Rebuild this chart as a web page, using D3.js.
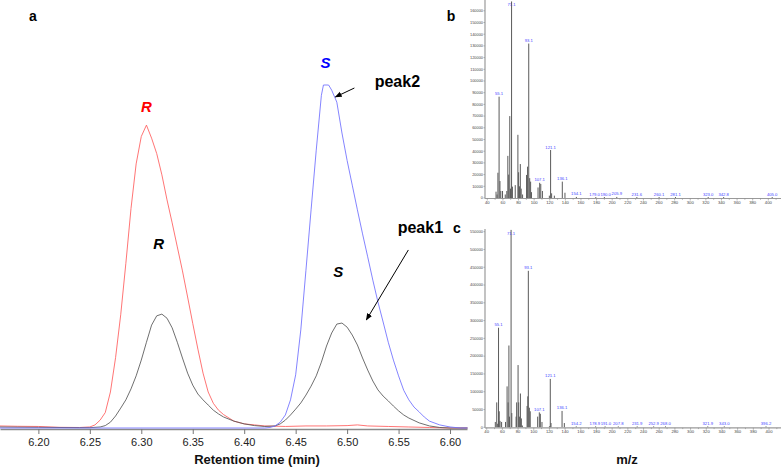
<!DOCTYPE html>
<html><head><meta charset="utf-8">
<script src="https://cdn.jsdelivr.net/npm/d3@7"></script>
<style>body{margin:0;background:#fff}svg{display:block}</style>
</head><body><svg id="c" width="784" height="468"></svg>
<script>
// ---------- Panel a: chromatograms ----------
const aTicks = [6.20, 6.25, 6.30, 6.35, 6.40, 6.45, 6.50, 6.55, 6.60];
const redTime = [6.162, 6.18, 6.20, 6.22, 6.24, 6.25, 6.255, 6.26, 6.265, 6.27, 6.275, 6.28, 6.285, 6.29, 6.295, 6.30, 6.305, 6.31, 6.315, 6.32, 6.325, 6.33, 6.335, 6.34, 6.345, 6.35, 6.355, 6.36, 6.365, 6.37, 6.375, 6.38, 6.39, 6.40, 6.41, 6.42, 6.44, 6.46, 6.48, 6.50, 6.51, 6.52, 6.54, 6.56, 6.58, 6.60, 6.617];
const redValue = [0.6, 0.5, 0.45, 0.2, 0.15, 0.3, 0.9, 2.3, 4.5, 10.5, 20.5, 33, 48, 64, 77, 85, 88.3, 84.5, 80, 73.8, 66.5, 59.8, 52.8, 45.8, 38.2, 30.5, 23, 16, 10.5, 7.2, 5.2, 3.9, 2, 1.2, 0.9, 0.6, 0.45, 0.6, 0.6, 0.7, 0.9, 0.6, 0.45, 0.3, 0.15, 0, 0];
const blueTime = [6.162, 6.42, 6.425, 6.43, 6.435, 6.44, 6.445, 6.45, 6.455, 6.46, 6.465, 6.47, 6.475, 6.477, 6.482, 6.485, 6.49, 6.495, 6.50, 6.505, 6.51, 6.515, 6.52, 6.525, 6.53, 6.535, 6.54, 6.545, 6.55, 6.555, 6.56, 6.565, 6.57, 6.575, 6.58, 6.59, 6.60, 6.61, 6.617];
const blueValue = [0, 0, 0.15, 0.6, 1.7, 3.8, 8.2, 15.5, 28.6, 46, 63.6, 81, 97, 100, 100, 98.5, 95, 86, 78, 70.8, 63.6, 56.6, 49.9, 43.1, 36.7, 30.9, 25, 19.8, 15.2, 11, 8.2, 6.1, 4.7, 3.2, 2, 0.9, 0.3, 0, 0];
const blackTime = [6.162, 6.20, 6.24, 6.25, 6.26, 6.265, 6.27, 6.275, 6.28, 6.285, 6.29, 6.295, 6.30, 6.305, 6.31, 6.315, 6.32, 6.325, 6.33, 6.335, 6.34, 6.345, 6.35, 6.355, 6.36, 6.365, 6.37, 6.375, 6.38, 6.39, 6.40, 6.41, 6.42, 6.43, 6.435, 6.44, 6.445, 6.45, 6.455, 6.46, 6.465, 6.47, 6.475, 6.48, 6.485, 6.49, 6.495, 6.50, 6.505, 6.51, 6.515, 6.52, 6.525, 6.53, 6.535, 6.54, 6.545, 6.55, 6.555, 6.56, 6.57, 6.58, 6.59, 6.60, 6.617];
const blackValue = [0.3, 0.2, 0.1, 0.1, 0.3, 0.7, 1.7, 3.5, 5.8, 8.2, 11.4, 15.2, 19.8, 25, 30, 32.7, 33.2, 32, 29.2, 25, 20.4, 16, 12.5, 9.9, 8.2, 6.7, 5.2, 4.1, 3.2, 2, 1.2, 0.7, 0.45, 0.6, 1.2, 2.3, 3.8, 5.5, 7.3, 9.6, 12.2, 15.2, 19.2, 23.9, 27.7, 30.3, 30.6, 29.4, 27.1, 24.2, 20.4, 16.9, 13.7, 11.1, 9.3, 7.9, 6.4, 5, 3.8, 2.9, 1.5, 0.6, 0.15, 0, 0];

// ---------- Panel b: mass spectrum ----------
const bMz = [51.2, 52.5, 53.6, 55.1, 56.2, 57.3, 59.5, 63, 65, 66.3, 67.4, 68.8, 69.7, 71.1, 72.2, 75.8, 79.2, 80.1, 81.3, 82.3, 83.4, 85.2, 90.3, 91.6, 93.1, 94.3, 95.5, 96.6, 105, 107.1, 108.5, 110.6, 119.5, 121.1, 122.4, 125.9, 136.1, 139.5, 154.1, 179.0, 190.0, 205.9, 231.6, 260.1, 281.1, 323.0, 342.8, 405.0];
const bInt = [5400, 3000, 21600, 86600, 14500, 6000, 6000, 3000, 6000, 36000, 20000, 70000, 8000, 168000, 9700, 11000, 54000, 22000, 10000, 29000, 8000, 3000, 19700, 26800, 132000, 17000, 14000, 5000, 9000, 13000, 12000, 6000, 2000, 41000, 4000, 2000, 14000, 4500, 900, 800, 800, 900, 800, 800, 800, 800, 800, 800];
const bLabels = ["55.1", "71.1", "93.1", "107.1", "121.1", "136.1", "154.1", "179.0", "190.0", "205.9", "231.6", "260.1", "281.1", "323.0", "342.8", "405.0"];
const bYTicks = d3.range(0, 160001, 10000);

// ---------- Panel c: mass spectrum ----------
const cMz = [51, 52.8, 54, 55.1, 56, 57, 59, 64, 66, 67.3, 68.3, 69, 71.1, 72, 77.5, 78.2, 80, 80.8, 82, 83, 84.2, 85.5, 91.5, 92.4, 93.1, 94.4, 95.5, 105, 107.1, 108.4, 110.5, 120, 121.1, 122, 136.1, 139, 154.2, 178.9, 191.0, 207.8, 231.9, 252.9, 268.0, 321.9, 343.0, 396.2];
const cInt = [15000, 70000, 10000, 280000, 45000, 18000, 15000, 15000, 115000, 70000, 230000, 30000, 555000, 40000, 30000, 70000, 175000, 70000, 30000, 95000, 25000, 5000, 60000, 87000, 440000, 55000, 45000, 30000, 42000, 38000, 15000, 3000, 136000, 12000, 46000, 12000, 2500, 2500, 2500, 2500, 2500, 2500, 2500, 2500, 2500, 2500];
const cLabels = ["55.1", "71.1", "93.1", "107.1", "121.1", "136.1", "154.2", "178.9", "191.0", "207.8", "231.9", "252.9", "268.0", "321.9", "343.0", "396.2"];
const cYTicks = d3.range(0, 550001, 50000);
const mzTicks = d3.range(40, 401, 20);

const FONT = "'Liberation Sans', Arial, Helvetica, sans-serif";
const svg = d3.select("#c").style("font-family", FONT);

// ===== Panel a =====
const xA = d3.scaleLinear().domain([6.1627, 6.6165]).range([0, 467]);
const yA = d3.scaleLinear().domain([0, 100]).range([428, 85]);

const gAx = svg.append("g").attr("transform", "translate(0,429)");
gAx.call(d3.axisBottom(xA).tickValues(d3.range(6.165, 6.6151, 0.005)).tickFormat("").tickSize(3).tickSizeOuter(0));
gAx.call(d3.axisBottom(xA).tickValues(aTicks).tickFormat(d3.format(".2f")).tickSize(5).tickSizeOuter(0).tickPadding(4));
gAx.selectAll("path.domain").attr("stroke", "#8a8a8a").attr("stroke-width", 1.3);
gAx.selectAll(".tick line").attr("stroke", "#777");
gAx.selectAll(".tick text").attr("font-size", 11).attr("fill", "#222").attr("font-family", FONT);

svg.append("text").attr("x", 257).attr("y", 464).attr("text-anchor", "middle")
  .attr("font-size", 13).attr("font-weight", "bold").attr("fill", "#111").text("Retention time (min)");

const lineA = d3.line().x(d => xA(d[0])).y(d => yA(d[1]));
const series = [
  {t: redTime, v: redValue, c: "#ff5c5c"},
  {t: blackTime, v: blackValue, c: "#555555"},
  {t: blueTime, v: blueValue, c: "#6e6eff"}
];
series.forEach(s => {
  svg.append("path").attr("d", lineA(s.t.map((t, i) => [t, s.v[i]])))
    .attr("fill", "none").attr("stroke", s.c).attr("stroke-width", 0.85);
});

// annotations
function lab(x, y, txt, col, size, italic) {
  return svg.append("text").attr("x", x).attr("y", y).attr("text-anchor", "middle")
    .attr("font-size", size).attr("font-weight", "bold").attr("font-style", italic ? "italic" : "normal")
    .attr("fill", col).text(txt);
}
lab(xA(6.305), yA(88.3) - 13, "R", "#ff0000", 15, true);
lab(xA(6.479), yA(100) - 17.5, "S", "#0000ff", 15, true);
lab(xA(6.317), yA(33.2) - 65, "R", "#000", 15, true);
lab(xA(6.4915), yA(30.6) - 46, "S", "#000", 15, true);
lab(xA(6.4886) + 62, yA(96.5) - 10, "peak2", "#000", 16, false);
lab(xA(6.5187) + 54, yA(31.5) - 87, "peak1", "#000", 16, false);

svg.append("defs").append("marker").attr("id", "ah").attr("viewBox", "0 0 10 10")
  .attr("refX", 9).attr("refY", 5).attr("markerWidth", 7).attr("markerHeight", 7)
  .attr("orient", "auto").append("path").attr("d", "M0,1L10,5L0,9z").attr("fill", "#000");
function arrow(x2, y2, dx, dy) {
  svg.append("line").attr("x1", x2 + dx).attr("y1", y2 + dy).attr("x2", x2).attr("y2", y2)
    .attr("stroke", "#000").attr("stroke-width", 1).attr("marker-end", "url(#ah)");
}
arrow(xA(6.4886), yA(96.5), 19, -9);
arrow(xA(6.5187), yA(31.5), 42, -70);

// panel letters
lab(33, 21, "a", "#000", 14, false);
lab(451, 21, "b", "#000", 14, false);
lab(457, 233, "c", "#000", 14, false);

// ===== Panels b, c =====
function spectrum(mz, ints, labels, yTicks, x, y, axTop) {
  const g = svg.append("g");
  const y0 = y(0), xL = 485, xR = 781;
  mz.forEach((m, i) => {
    g.append("line").attr("x1", x(m)).attr("x2", x(m)).attr("y1", y0).attr("y2", y(ints[i]))
      .attr("stroke", "#5a5a5a").attr("stroke-width", 1);
  });
  g.append("line").attr("x1", xL).attr("x2", xL).attr("y1", axTop).attr("y2", y0 + 0.5).attr("stroke", "#9a9a9a").attr("stroke-width", 1.2);
  g.append("line").attr("x1", xL).attr("x2", xR).attr("y1", y0 + 0.5).attr("y2", y0 + 0.5).attr("stroke", "#9a9a9a").attr("stroke-width", 1.2);
  yTicks.forEach(v => {
    g.append("line").attr("x1", xL - 1.5).attr("x2", xL).attr("y1", y(v)).attr("y2", y(v)).attr("stroke", "#888").attr("stroke-width", 0.6);
    g.append("text").attr("x", xL - 2).attr("y", y(v) + 1.3).attr("text-anchor", "end")
      .attr("font-size", 3.9).attr("fill", "#444").text(v);
  });
  d3.range(40, 411, 10).forEach(v => {
    g.append("line").attr("x1", x(v)).attr("x2", x(v)).attr("y1", y0 + 0.5).attr("y2", y0 + (v % 20 === 0 ? 2.5 : 1.8))
      .attr("stroke", "#888").attr("stroke-width", 0.6);
  });
  mzTicks.forEach(v => {
    g.append("text").attr("x", x(v)).attr("y", y0 + 5.8).attr("text-anchor", "middle")
      .attr("font-size", 4.2).attr("fill", "#444").text(v);
  });
  // peak labels with simple left-to-right collision avoidance (same row only)
  const placed = [];
  labels.forEach(l => {
    const m = +l;
    let k = 0, best = 1e9;
    mz.forEach((mm, i) => { if (Math.abs(mm - m) < best) { best = Math.abs(mm - m); k = i; } });
    const yy = Math.max(y(ints[k]) - 1.5, axTop + 5.5);
    const t = g.append("text").attr("x", x(m)).attr("y", yy).attr("text-anchor", "middle")
      .attr("font-size", 4.2).attr("fill", "#4444ff").text(l);
    const w = t.node().getComputedTextLength();
    placed.push({t, cx: x(m), y: yy, w});
  });
  for (let pass = 0; pass < 4; pass++) {
    for (let i = 1; i < placed.length; i++) {
      const a = placed[i - 1], b = placed[i];
      if (Math.abs(a.y - b.y) > 4) continue;
      const gap = (b.cx - b.w / 2) - (a.cx + a.w / 2);
      if (gap < 0.6) { const d = (0.6 - gap) / 2; a.cx -= d; b.cx += d; }
    }
  }
  placed.forEach(p => p.t.attr("x", p.cx));
}
const xB = d3.scaleLinear().domain([40, 400]).range([487.3, 768.3]);
const yB = d3.scaleLinear().domain([0, 160000]).range([198, 10.8]);
spectrum(bMz, bInt, bLabels, bYTicks, xB, yB, 0);
const xC = d3.scaleLinear().domain([40, 400]).range([486.7, 769]);
const yC = d3.scaleLinear().domain([0, 550000]).range([427.3, 231.7]);
spectrum(cMz, cInt, cLabels, cYTicks, xC, yC, 229);

svg.append("text").attr("x", 627).attr("y", 464).attr("text-anchor", "middle")
  .attr("font-size", 13).attr("font-weight", "bold").attr("fill", "#111").text("m/z");
</script></body></html>
